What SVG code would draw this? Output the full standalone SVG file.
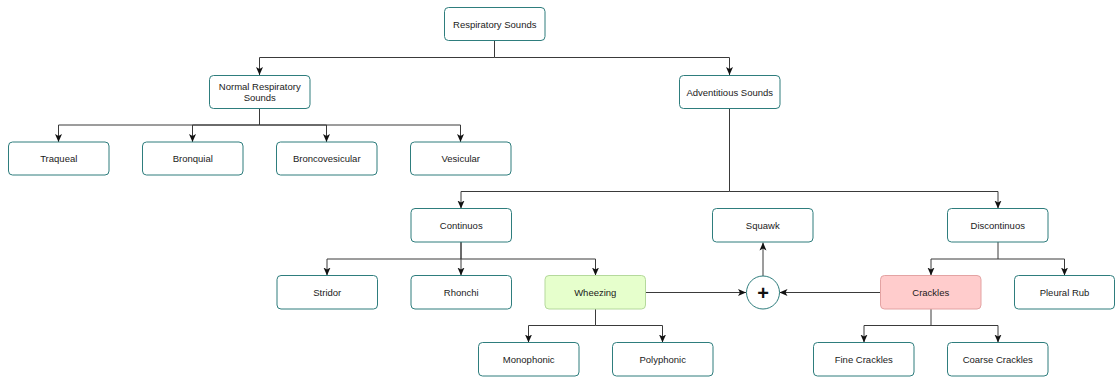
<svg xmlns="http://www.w3.org/2000/svg" width="1115" height="379" viewBox="0 0 1115 379">
  <style>
    .box { fill: #ffffff; stroke: #2e7d7d; stroke-width: 1; }
    .green { fill: #e6ffcc; stroke: #b5d99c; }
    .red { fill: #ffcccc; stroke: #e3a3a3; }
    .lbl { font-family: "Liberation Sans", Arial, sans-serif; font-size: 9.5px; fill: #1a1a1a; text-anchor: middle; dominant-baseline: central; }
    .plus { font-family: "Liberation Sans", Arial, sans-serif; font-size: 20px; font-weight: bold; fill: #111; text-anchor: middle; dominant-baseline: central; }
    .edge { fill: none; stroke: #3a3a3a; stroke-width: 1; }
  </style>
  <defs>
    <marker id="arrow" viewBox="0 0 8 8" refX="8" refY="4" markerWidth="8" markerHeight="8" markerUnits="userSpaceOnUse" orient="auto">
      <path d="M0,0.5 L8,4 L0,7.5 L2,4 Z" fill="#111"/>
    </marker>
  </defs>
  <rect width="1115" height="379" fill="#ffffff"/>

  <g id="connectors">
    <!-- root to level 1 -->
    <path class="edge" d="M494.5,41 V57.5 H259.5 V75" marker-end="url(#arrow)"/>
    <path class="edge" d="M494.5,57.5 H729.5 V75" marker-end="url(#arrow)"/>
    <!-- normal sounds -->
    <path class="edge" d="M259.5,108 V125 H58.5 V142" marker-end="url(#arrow)"/>
    <path class="edge" d="M259.5,125 H192.5 V142" marker-end="url(#arrow)"/>
    <path class="edge" d="M259.5,125 H326.5 V142" marker-end="url(#arrow)"/>
    <path class="edge" d="M259.5,125 H460.5 V142" marker-end="url(#arrow)"/>
    <!-- adventitious sounds -->
    <path class="edge" d="M729.5,108 V191.5 H461 V208.5" marker-end="url(#arrow)"/>
    <path class="edge" d="M729.5,191.5 H998 V208.5" marker-end="url(#arrow)"/>
    <!-- continuous -->
    <path class="edge" d="M461,242 V259 H327 V275.5" marker-end="url(#arrow)"/>
    <path class="edge" d="M461,242 V275.5" marker-end="url(#arrow)"/>
    <path class="edge" d="M461,259 H595.5 V275.5" marker-end="url(#arrow)"/>
    <!-- discontinuous -->
    <path class="edge" d="M998,242 V259 H931 V275.5" marker-end="url(#arrow)"/>
    <path class="edge" d="M998,259 H1064.5 V275.5" marker-end="url(#arrow)"/>
    <!-- wheezing children -->
    <path class="edge" d="M595.5,309 V325.5 H528.5 V342.5" marker-end="url(#arrow)"/>
    <path class="edge" d="M595.5,325.5 H662.5 V342.5" marker-end="url(#arrow)"/>
    <!-- crackles children -->
    <path class="edge" d="M931,309 V325.5 H864 V342.5" marker-end="url(#arrow)"/>
    <path class="edge" d="M931,325.5 H998 V342.5" marker-end="url(#arrow)"/>
    <!-- combination into squawk -->
    <path class="edge" d="M646,292.5 H746" marker-end="url(#arrow)"/>
    <path class="edge" d="M880.5,292.5 H779.5" marker-end="url(#arrow)"/>
    <path class="edge" d="M763,276 V242.5" marker-end="url(#arrow)"/>
  </g>

  <g id="respiratory-sounds">
    <rect class="box" x="444.5" y="7.5" width="100.5" height="33" rx="4"/>
    <text class="lbl" x="494.75" y="24">Respiratory Sounds</text>
  </g>
  <g id="normal-sounds">
    <rect class="box" x="209.5" y="75.5" width="100.5" height="33" rx="4"/>
    <text class="lbl" x="259.75" y="86.5">Normal Respiratory</text>
    <text class="lbl" x="259.75" y="97.5">Sounds</text>
  </g>
  <g id="adventitious-sounds">
    <rect class="box" x="679.5" y="75.5" width="100.5" height="33" rx="4"/>
    <text class="lbl" x="729.75" y="92">Adventitious Sounds</text>
  </g>

  <g id="traqueal">
    <rect class="box" x="8.5" y="142" width="100.5" height="33" rx="4"/>
    <text class="lbl" x="58.75" y="158.5">Traqueal</text>
  </g>
  <g id="bronquial">
    <rect class="box" x="142.5" y="142" width="100.5" height="33" rx="4"/>
    <text class="lbl" x="192.75" y="158.5">Bronquial</text>
  </g>
  <g id="broncovesicular">
    <rect class="box" x="276.5" y="142" width="100.5" height="33" rx="4"/>
    <text class="lbl" x="326.75" y="158.5">Broncovesicular</text>
  </g>
  <g id="vesicular">
    <rect class="box" x="410.5" y="142" width="100.5" height="33" rx="4"/>
    <text class="lbl" x="460.75" y="158.5">Vesicular</text>
  </g>

  <g id="continuos">
    <rect class="box" x="411" y="208.5" width="100.5" height="33.5" rx="4"/>
    <text class="lbl" x="461.25" y="225.25">Continuos</text>
  </g>
  <g id="squawk">
    <rect class="box" x="712.5" y="208.5" width="100.5" height="33.5" rx="4"/>
    <text class="lbl" x="762.75" y="225.25">Squawk</text>
  </g>
  <g id="discontinuos">
    <rect class="box" x="947.5" y="208.5" width="100.5" height="33.5" rx="4"/>
    <text class="lbl" x="997.75" y="225.25">Discontinuos</text>
  </g>

  <g id="stridor">
    <rect class="box" x="277" y="275.5" width="100.5" height="33.5" rx="4"/>
    <text class="lbl" x="327.25" y="292.25">Stridor</text>
  </g>
  <g id="rhonchi">
    <rect class="box" x="411" y="275.5" width="100.5" height="33.5" rx="4"/>
    <text class="lbl" x="461.25" y="292.25">Rhonchi</text>
  </g>
  <g id="wheezing">
    <rect class="box green" x="545" y="275.5" width="100.5" height="33.5" rx="4"/>
    <text class="lbl" x="595.25" y="292.25">Wheezing</text>
  </g>
  <g id="combine">
    <circle class="box" cx="763" cy="292.5" r="16.5"/>
    <text class="plus" x="763" y="293">+</text>
  </g>
  <g id="crackles">
    <rect class="box red" x="880.5" y="275.5" width="100.5" height="33.5" rx="4"/>
    <text class="lbl" x="930.75" y="292.25">Crackles</text>
  </g>
  <g id="pleural-rub">
    <rect class="box" x="1014.5" y="275.5" width="100" height="33.5" rx="4"/>
    <text class="lbl" x="1064.5" y="292.25">Pleural Rub</text>
  </g>

  <g id="monophonic">
    <rect class="box" x="478.5" y="342.5" width="100.5" height="33.5" rx="4"/>
    <text class="lbl" x="528.75" y="359.25">Monophonic</text>
  </g>
  <g id="polyphonic">
    <rect class="box" x="612.5" y="342.5" width="100.5" height="33.5" rx="4"/>
    <text class="lbl" x="662.75" y="359.25">Polyphonic</text>
  </g>
  <g id="fine-crackles">
    <rect class="box" x="813.5" y="342.5" width="100.5" height="33.5" rx="4"/>
    <text class="lbl" x="863.75" y="359.25">Fine Crackles</text>
  </g>
  <g id="coarse-crackles">
    <rect class="box" x="947.5" y="342.5" width="100.5" height="33.5" rx="4"/>
    <text class="lbl" x="997.75" y="359.25">Coarse Crackles</text>
  </g>
</svg>
